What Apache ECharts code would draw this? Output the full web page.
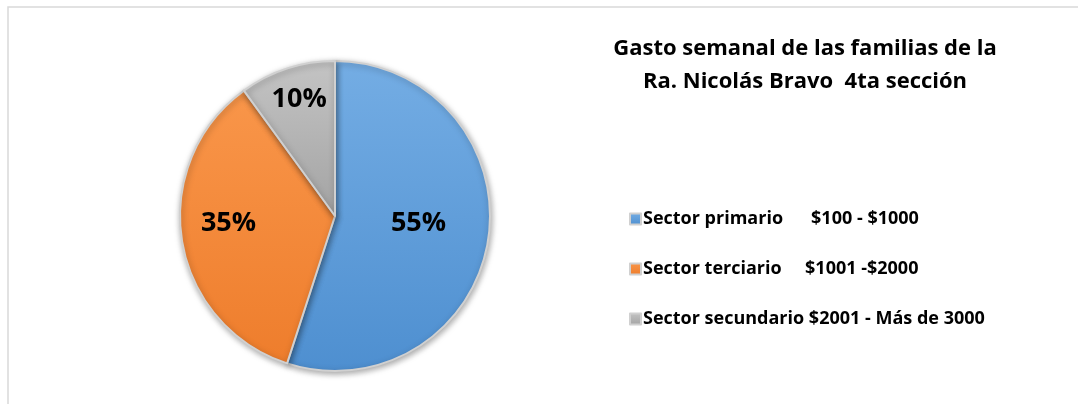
<!DOCTYPE html>
<html>
<head>
<meta charset="utf-8">
<script src="https://cdn.jsdelivr.net/npm/echarts@6/dist/echarts.min.js"></script>
<style>
  html, body { margin: 0; padding: 0; background: #fff; }
  #gastoChart { width: 1078px; height: 404px; }
</style>
</head>
<body>
<div id="gastoChart"></div>
<script>
// datos del grafico
const sectores = [
  "Sector primario      $100 - $1000",
  "Sector terciario     $1001 -$2000",
  "Sector secundario $2001 - Más de 3000"
];
const porcentajes = [55, 35, 10];
const tituloLineas = ["Gasto semanal de las familias de la", "Ra. Nicolás Bravo  4ta sección"];

const colores = [
  { top: "#74adE4", bottom: "#4e8fd0" },
  { top: "#f9964a", bottom: "#ee7d2c" },
  { top: "#c4c4c4", bottom: "#a3a3a3" }
];

// desplazamiento de etiquetas (como en el original)
const labelShift = [[4, -5], [-27, -5], [-11, -40]];

const fuente = "Open Sans";

let eChart = echarts.init(document.getElementById("gastoChart"));

let data = sectores.map(function (name, i) {
  return {
    name: name,
    value: porcentajes[i],
    itemStyle: {
      color: new echarts.graphic.LinearGradient(0, 0, 0, 1, [
        { offset: 0, color: colores[i].top },
        { offset: 1, color: colores[i].bottom }
      ]),
      borderColor: "#d0d0d0",
      borderWidth: 2
    }
  };
});

let option = {
  animation: false,
  graphic: [{
    type: "rect",
    shape: { x: 8, y: 7, width: 1090, height: 420 },
    style: { fill: "none", stroke: "#d9d9d9", lineWidth: 1.5 },
    silent: true
  }],
  title: {
    text: tituloLineas.join("\n"),
    left: 800,
    top: 27,
    textAlign: "center",
    textStyle: {
      fontFamily: fuente,
      fontWeight: "bold",
      fontSize: 22,
      lineHeight: 33,
      color: "#000"
    }
  },
  legend: {
    orient: "vertical",
    left: 624,
    top: 204,
    itemWidth: 11,
    itemHeight: 11,
    itemGap: 30,
    icon: "rect",
    data: sectores,
    textStyle: {
      fontFamily: fuente,
      fontWeight: "bold",
      fontSize: 18,
      lineHeight: 20,
      color: "#000",
      padding: [0, 0, 0, -3]
    }
  },
  series: [{
    type: "pie",
    center: [335, 216],
    radius: [0, 155],
    startAngle: 90,
    clockwise: true,
    silent: true,
    data: data,
    itemStyle: {
      shadowBlur: 6,
      shadowColor: "rgba(0,0,0,0.35)",
      shadowOffsetX: 1,
      shadowOffsetY: 2
    },
    label: {
      show: true,
      position: "inside",
      formatter: "{c}%",
      fontFamily: fuente,
      fontWeight: "bold",
      fontSize: 27,
      color: "#000"
    },
    labelLine: { show: false },
    labelLayout: function (params) {
      let s = labelShift[params.dataIndex];
      return { dx: s[0], dy: s[1] };
    }
  }]
};

eChart.setOption(option);
</script>
</body>
</html>
